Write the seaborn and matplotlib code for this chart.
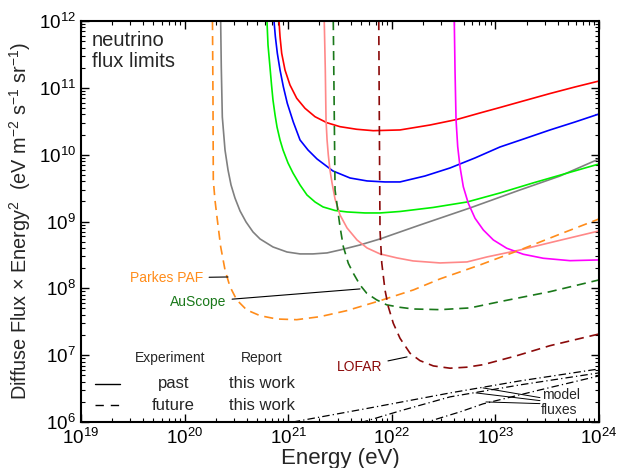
import matplotlib
matplotlib.use("Agg")
import matplotlib.pyplot as plt
import numpy as np
import pandas as pd
import seaborn as sns

# log10(energy / eV) and log10(flux)
gray_e = [20.348, 20.354, 20.364, 20.390, 20.419, 20.448, 20.486, 20.535, 20.593, 20.660, 20.728, 20.853,
          20.988, 21.114, 21.239, 21.375, 21.500, 21.693, 21.886, 22.272, 22.755, 23.237, 23.624, 24.0]
gray_f = [12.0, 11.312, 10.564, 10.070, 9.771, 9.547, 9.352, 9.158, 8.993, 8.844, 8.739, 8.619,
          8.544, 8.515, 8.515, 8.530, 8.574, 8.649, 8.739, 8.948, 9.203, 9.472, 9.681, 9.936]

red_e = [20.911, 20.921, 20.937, 20.969, 21.017, 21.082, 21.162, 21.259, 21.372, 21.500, 21.661, 21.821,
         22.079, 22.369, 22.629, 22.851, 23.044, 23.286, 23.527, 23.768, 24.0]
red_f = [12.0, 11.765, 11.517, 11.267, 11.043, 10.844, 10.694, 10.568, 10.479, 10.419, 10.380, 10.359,
         10.370, 10.444, 10.527, 10.624, 10.706, 10.811, 10.915, 11.013, 11.102]

blue_e = [20.863, 20.876, 20.895, 20.921, 20.953, 20.991, 21.049, 21.114, 21.191, 21.278, 21.432, 21.597,
          21.761, 21.934, 22.079, 22.320, 22.562, 22.803, 23.044, 23.286, 23.527, 23.768, 24.0]
blue_f = [12.0, 11.765, 11.517, 11.267, 11.017, 10.769, 10.489, 10.220, 10.070, 9.936, 9.756, 9.651,
          9.607, 9.592, 9.592, 9.681, 9.801, 9.951, 10.115, 10.242, 10.370, 10.489, 10.609]

green_e = [20.795, 20.805, 20.824, 20.839, 20.853, 20.873, 20.892, 20.921, 20.950, 20.998, 21.046, 21.114,
           21.181, 21.259, 21.336, 21.452, 21.568, 21.741, 21.886, 22.079, 22.398, 22.726, 23.044, 23.363,
           23.681, 24.0]
green_f = [12.0, 11.641, 11.312, 11.043, 10.818, 10.594, 10.414, 10.220, 10.070, 9.876, 9.726, 9.547,
           9.397, 9.292, 9.218, 9.165, 9.143, 9.128, 9.128, 9.150, 9.210, 9.292, 9.427, 9.577,
           9.719, 9.861]

pink_e = [21.348, 21.358, 21.365, 21.375, 21.387, 21.403, 21.423, 21.452, 21.500, 21.568, 21.664, 21.761,
          21.886, 22.050, 22.205, 22.465, 22.726, 22.919, 23.237, 23.556, 24.0]
pink_f = [12.0, 11.267, 10.519, 10.220, 9.996, 9.771, 9.577, 9.337, 9.098, 8.903, 8.724, 8.604,
          8.515, 8.455, 8.410, 8.380, 8.395, 8.470, 8.574, 8.694, 8.859]

magenta_e = [22.603, 22.610, 22.620, 22.636, 22.658, 22.690, 22.738, 22.803, 22.883, 22.980, 23.109,
             23.269, 23.462, 23.720, 24.0]
magenta_f = [12.0, 11.267, 10.519, 10.120, 9.820, 9.521, 9.273, 9.049, 8.874, 8.724, 8.600,
             8.510, 8.450, 8.414, 8.425]

parkes_e = [20.269, 20.274, 20.277, 20.293, 20.316, 20.348, 20.390, 20.438, 20.503, 20.599, 20.728, 20.889,
            21.082, 21.307, 21.565, 21.886, 22.208, 22.465, 22.851, 23.237, 23.624, 24.0]
parkes_f = [12.0, 10.818, 9.621, 9.322, 9.023, 8.624, 8.275, 8.025, 7.827, 7.677, 7.591, 7.541,
            7.531, 7.576, 7.666, 7.815, 7.976, 8.141, 8.350, 8.574, 8.812, 9.038]

auscope_e = [21.435, 21.444, 21.452, 21.474, 21.500, 21.532, 21.580, 21.628, 21.693, 21.758, 21.854, 21.951,
             22.079, 22.208, 22.465, 22.755, 23.044, 23.527, 24.0]
auscope_f = [12.0, 10.669, 9.472, 9.222, 8.923, 8.624, 8.375, 8.226, 8.051, 7.926, 7.827, 7.753,
             7.716, 7.691, 7.681, 7.707, 7.801, 7.950, 8.126]

lofar_e = [21.874, 21.880, 21.886, 21.903, 21.934, 21.966, 22.014, 22.079, 22.176, 22.272, 22.401, 22.562,
           22.723, 22.883, 23.206, 23.527, 24.0]
lofar_f = [12.0, 10.369, 8.874, 8.380, 7.976, 7.726, 7.478, 7.253, 7.029, 6.918, 6.839, 6.805,
           6.820, 6.858, 6.992, 7.142, 7.317]

model1_e = [20.9, 21.046, 21.790, 22.562, 23.237, 24.0]
model1_f = [5.97, 6.0, 6.211, 6.435, 6.615, 6.794]
model2_e = [21.6, 21.722, 22.079, 22.562, 23.237, 24.0]
model2_f = [5.82, 6.0, 6.166, 6.376, 6.555, 6.735]
model3_e = [22.2, 22.340, 22.658, 22.880, 23.430, 24.0]
model3_f = [5.78, 6.0, 6.151, 6.271, 6.480, 6.690]

sns.set_theme(style="ticks")
plt.rcParams['font.family'] = ['Liberation Sans', 'DejaVu Sans']
plt.rcParams['mathtext.fontset'] = 'custom'
plt.rcParams['mathtext.rm'] = 'Liberation Sans'
plt.rcParams['mathtext.it'] = 'Liberation Sans:italic'
plt.rcParams['mathtext.default'] = 'regular'

fig = plt.figure(figsize=(6.26, 4.68), dpi=100)
ax = fig.add_axes([0.1294, 0.0983, 0.8275, 0.8568])
ax.set_xscale('log')
ax.set_yscale('log')

dash = (0, (5.5, 3.5))
dashdot = (0, (6, 2.5, 1, 2.5))
curves = [
    (gray_e, gray_f, '#808080', '-'),
    (red_e, red_f, '#ff0000', '-'),
    (blue_e, blue_f, '#0000ff', '-'),
    (green_e, green_f, '#00f000', '-'),
    (pink_e, pink_f, '#ff8888', '-'),
    (magenta_e, magenta_f, '#ff00ff', '-'),
    (parkes_e, parkes_f, '#ff8c1a', dash),
    (auscope_e, auscope_f, '#1a781a', dash),
    (lofar_e, lofar_f, '#8b0a0a', dash),
    (model1_e, model1_f, 'black', dashdot),
    (model2_e, model2_f, 'black', dashdot),
    (model3_e, model3_f, 'black', dashdot),
]
for e, f, c, ls in curves:
    df = pd.DataFrame({'energy': 10 ** np.array(e), 'flux': 10 ** np.array(f)})
    lw = 0.9 if ls is dashdot else 1.2
    sns.lineplot(data=df, x='energy', y='flux', ax=ax, color=c, linestyle=ls,
                 linewidth=lw, sort=False, estimator=None)

ax.set_xlim(1e19, 1e24)
ax.set_ylim(1e6, 1e12)
ax.set_xlabel('Energy (eV)', fontsize=16, labelpad=0)
ax.set_ylabel('Diffuse Flux \u00d7 Energy$^2$  (eV m$^{-2}$ s$^{-1}$ sr$^{-1}$)', fontsize=14.3, labelpad=4)
ax.tick_params(which='both', direction='in', top=True, right=True, labelsize=13.5, colors='black')
ax.tick_params(which='major', length=6, width=1)
ax.tick_params(which='minor', length=3, width=0.8)
ax.tick_params(axis='x', pad=4.5)
ax.xaxis.set_major_locator(matplotlib.ticker.LogLocator(base=10, numticks=10))
ax.xaxis.set_minor_locator(matplotlib.ticker.LogLocator(base=10, subs=np.arange(2, 10), numticks=20))
ax.yaxis.set_major_locator(matplotlib.ticker.LogLocator(base=10, numticks=10))
ax.yaxis.set_minor_locator(matplotlib.ticker.LogLocator(base=10, subs=np.arange(2, 10), numticks=20))
ax.xaxis.set_minor_formatter(matplotlib.ticker.NullFormatter())
ax.yaxis.set_minor_formatter(matplotlib.ticker.NullFormatter())
for sp in ax.spines.values():
    sp.set_linewidth(1.5)
    sp.set_color('black')
ax.grid(False)

ax.text(0.021, 0.975, 'neutrino\nflux limits', transform=ax.transAxes, fontsize=14.5,
        va='top', ha='left', linespacing=1.12)

line_kw = dict(arrowstyle='-', color='black', lw=0.8, shrinkA=2, shrinkB=0)
ax.annotate('Parkes PAF', xy=(10 ** 20.419, 10 ** 8.17), xytext=(10 ** 20.178, 10 ** 8.156),
            color='#ff8c1a', fontsize=10, ha='right', va='center', arrowprops=line_kw)
ax.annotate('AuScope', xy=(10 ** 21.693, 10 ** 7.991), xytext=(10 ** 20.40, 10 ** 7.797),
            color='#1a781a', fontsize=10, ha='right', va='center', arrowprops=line_kw)
ax.annotate('LOFAR', xy=(10 ** 22.147, 10 ** 6.974), xytext=(10 ** 21.905, 10 ** 6.824),
            color='#8b0a0a', fontsize=10, ha='right', va='center', arrowprops=line_kw)

ax.text(10 ** 23.45, 10 ** 6.405, 'model', fontsize=10, ha='left', va='center')
ax.text(10 ** 23.44, 10 ** 6.18, 'fluxes', fontsize=10, ha='left', va='center')
for start, end in [((23.43, 6.365), (22.880, 6.510)),
                   ((23.43, 6.32), (22.813, 6.435)),
                   ((23.43, 6.275), (22.909, 6.300))]:
    ax.annotate('', xy=(10 ** end[0], 10 ** end[1]), xytext=(10 ** start[0], 10 ** start[1]),
                arrowprops=dict(arrowstyle='-', color='black', lw=0.7, shrinkA=0, shrinkB=0))

# legend block
ax.text(0.172, 0.160, 'Experiment', transform=ax.transAxes, fontsize=10, ha='center', va='center')
ax.text(0.349, 0.160, 'Report', transform=ax.transAxes, fontsize=10, ha='center', va='center')
ax.plot([0.027, 0.075], [0.0948, 0.0948], transform=ax.transAxes, color='black', lw=1)
ax.plot([0.027, 0.075], [0.042, 0.042], transform=ax.transAxes, color='black', lw=1,
        linestyle=(0, (6, 5)))
ax.text(0.178, 0.0948, 'past', transform=ax.transAxes, fontsize=12, ha='center', va='center')
ax.text(0.349, 0.0948, 'this work', transform=ax.transAxes, fontsize=12, ha='center', va='center')
ax.text(0.178, 0.042, 'future', transform=ax.transAxes, fontsize=12, ha='center', va='center')
ax.text(0.349, 0.042, 'this work', transform=ax.transAxes, fontsize=12, ha='center', va='center')

fig.savefig('out.png', dpi=100)
